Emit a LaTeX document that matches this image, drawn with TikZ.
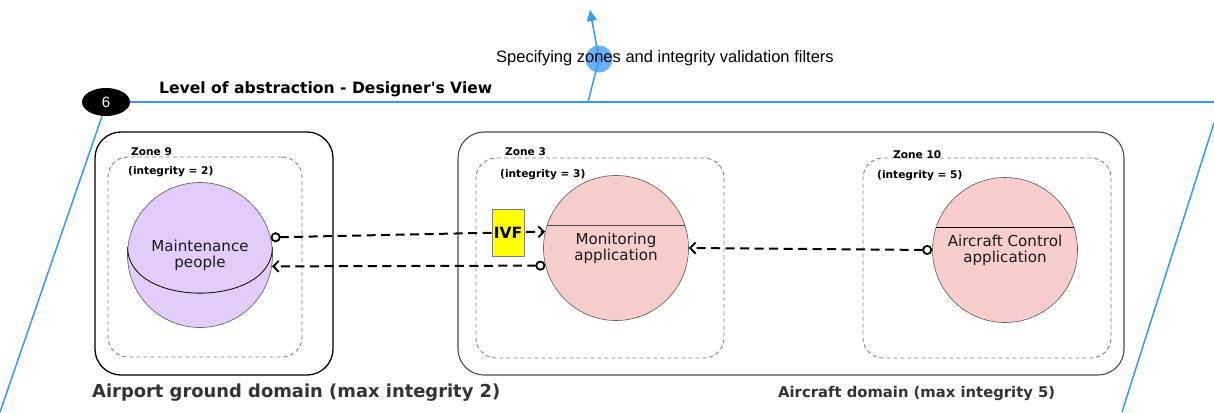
\documentclass[tikz,border=0pt]{standalone}
\usepackage{fontspec}
\setmainfont{DejaVu Sans}
\newfontfamily\arialf{Liberation Sans}
\usetikzlibrary{arrows.meta,calc,shapes.geometric}
\definecolor{blueline}{HTML}{3399FF}
\definecolor{bluedot}{HTML}{66B2FF}
\definecolor{lilac}{HTML}{E1CCFA}
\definecolor{pinkf}{HTML}{F8CECC}
\definecolor{zonegray}{HTML}{808080}
\definecolor{domgray}{HTML}{333333}
\definecolor{ivfy}{HTML}{FFFF00}
\tikzset{
  dombox/.style={draw, rounded corners=26pt, line width=1.3pt, minimum height=243pt},
  zonebox/.style={draw=zonegray, dash pattern=on 4pt off 3pt, rounded corners=20pt, line width=0.9pt, minimum height=200pt},
  zonelbl/.style={anchor=west, inner sep=0pt, font=\bfseries\fontsize{10.6}{12}\selectfont},
  comp/.style={circle, draw=gray!70!black, line width=0.6pt, minimum size=145pt, inner sep=0pt, align=center, text=black!90, font=\fontsize{15.1}{16}\selectfont},
  flow/.style={line width=2pt, dash pattern=on 9pt off 5.5pt, {Circle[open,length=10pt,width=10pt,line width=1.8pt]}-{Straight Barb[length=5.5pt,width=11pt,line width=1.8pt]}},
  domlbl/.style={anchor=west, inner sep=0pt, text=domgray, font=\bfseries},
  bline/.style={draw=blueline, line width=1.5pt}
}
\begin{document}
\begin{tikzpicture}[x=1pt,y=-1pt]
\useasboundingbox (0,0) rectangle (1214,412);
% blue layer outline
\node[ellipse, fill=black, minimum width=48pt, minimum height=28pt, inner sep=0pt, text=white, font=\arialf\fontsize{15}{16}\selectfont] (lvl) at (106,102) {6};
\coordinate (tr) at (1214,102);
\coordinate (rtop) at (1214,123);
\coordinate (rbot) at (1122,412);
\coordinate (lbot) at (0,412);
\coordinate (arrbase) at (588,102);
\coordinate (arrtip) at (590,10);
\draw[bline] (lvl.east) -- (tr);
\draw[bline] (lvl.south) ++(-4,0) coordinate (lstart) -- (lbot);
\draw[bline] (rtop) -- (rbot);
\node[circle, fill=bluedot, minimum size=27pt, inner sep=0pt] (dot) at (599,59) {};
\draw[bline] (arrbase) -- (dot.center);
\draw[bline, -{Triangle[length=11pt,width=10pt]}] (dot.center) -- (arrtip);
\node[anchor=west, inner sep=0pt, font=\arialf\fontsize{16.5}{18}\selectfont] (spec) at (496,58) {Specifying zones and integrity validation filters};
\node[anchor=west, inner sep=0pt, font=\bfseries\fontsize{15.6}{17}\selectfont] (title) at (159,89) {Level of abstraction - Designer\textquotesingle s View};
% domains
\node[dombox, minimum width=238pt] (airport) at (214,253.5) {};
\node[dombox, draw=black!70, line width=1.1pt, minimum width=666pt] (aircraft) at (791,253.5) {};
\node[domlbl, font=\bfseries\fontsize{17.9}{19}\selectfont] (aplbl) at (92,393) {Airport ground domain (max integrity 2)};
\node[domlbl, font=\bfseries\fontsize{14.8}{16}\selectfont] (aclbl) at (778,393) {Aircraft domain (max integrity 5)};
% zones
\node[zonebox, minimum width=194pt] (z9) at (205,257) {};
\node[zonebox, minimum width=248pt] (z3) at (600,258) {};
\node[zonebox, minimum width=248pt] (z10) at (987,258) {};
\node[zonelbl] (z9a) at (131,152) {Zone 9};
\node[zonelbl] (z9b) at (128,172) {(integrity = 2)};
\node[zonelbl] (z3a) at (505,152) {Zone 3};
\node[zonelbl] (z3b) at (500,175) {(integrity = 3)};
\node[zonelbl] (z10a) at (893,155) {Zone 10};
\node[zonelbl] (z10b) at (877,176) {(integrity = 5)};
% components
\node[comp, fill=lilac] (mp) at (200,255) {Maintenance\\people};
\draw[line width=0.8pt] (mp.174) .. controls +(0,61) and +(0,61) .. (mp.6);
\node[comp, fill=pinkf] (mon) at (616,248) {Monitoring\\application};
\draw[line width=0.8pt, black!70] (mon.162) -- (mon.18);
\node[comp, fill=pinkf] (ac) at (1005,250) {Aircraft Control\\application};
\draw[line width=0.8pt] (ac.162) -- (ac.18);
% flows
\draw[flow] (mp.14) -- (mon.167);
\draw[flow] (mon.194) -- (mp.351);
\draw[flow] (ac.west) -- (mon.east);
\node[draw=gray, fill=ivfy, minimum width=32pt, minimum height=47pt, inner sep=0pt, font=\bfseries\fontsize{15.5}{16}\selectfont] (ivf) at (508,232.5) {IVF};
\end{tikzpicture}
\end{document}
